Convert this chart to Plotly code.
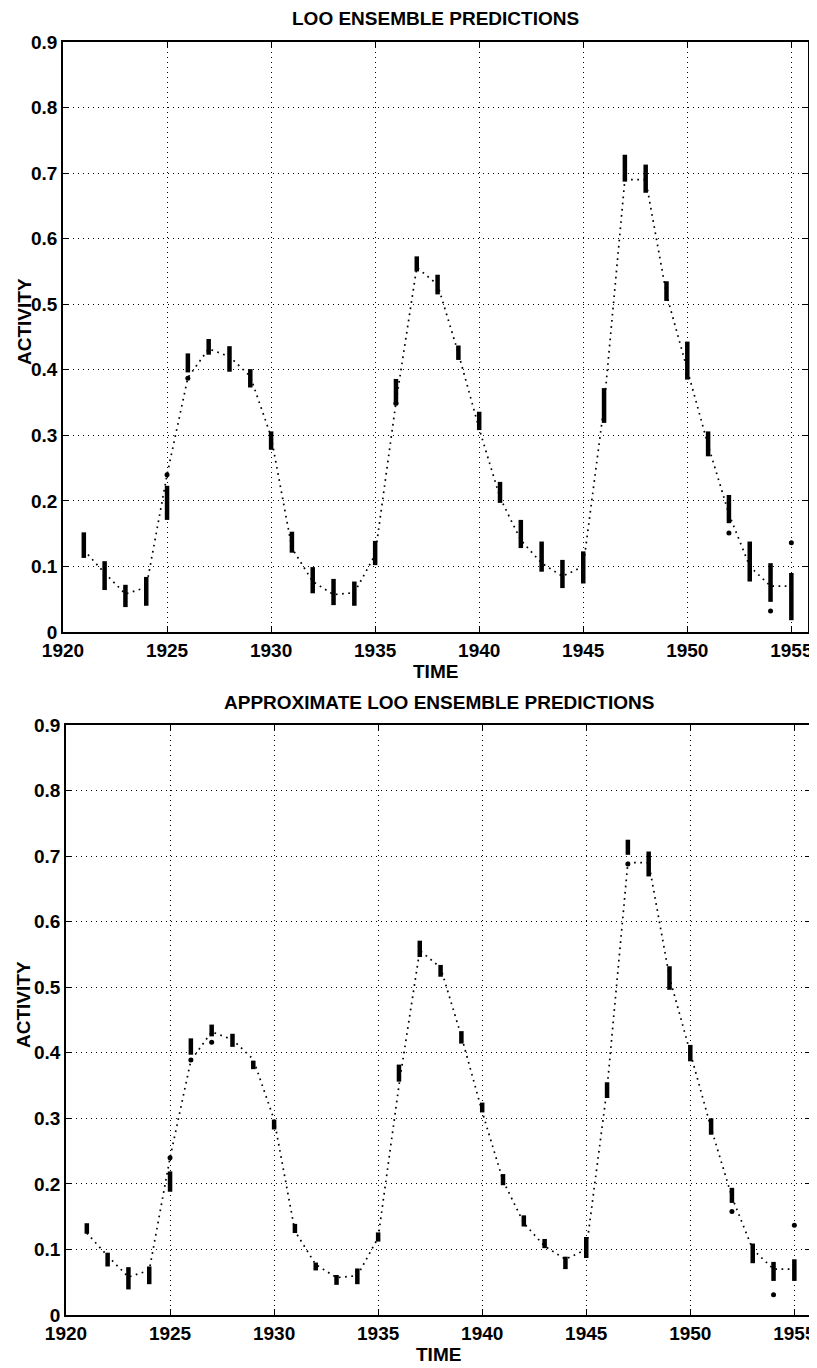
import plotly.graph_objects as go

years = list(range(1921, 1956))

# dotted reference line (observed series)
observed = [0.125, 0.090, 0.058, 0.068, 0.240, 0.388, 0.432, 0.420, 0.390, 0.298,
            0.128, 0.077, 0.057, 0.060, 0.118, 0.350, 0.556, 0.530, 0.425, 0.310,
            0.205, 0.140, 0.105, 0.085, 0.100, 0.345, 0.690, 0.690, 0.515, 0.400,
            0.285, 0.180, 0.100, 0.070, 0.070]

# LOO ensemble spread (low / high) per year
loo_lo = [0.113, 0.064, 0.038, 0.040, 0.171, 0.396, 0.423, 0.397, 0.373, 0.278,
          0.121, 0.059, 0.041, 0.040, 0.102, 0.346, 0.550, 0.515, 0.415, 0.308,
          0.197, 0.128, 0.092, 0.067, 0.074, 0.319, 0.687, 0.670, 0.505, 0.385,
          0.268, 0.166, 0.077, 0.046, 0.018]
loo_hi = [0.152, 0.108, 0.072, 0.084, 0.223, 0.425, 0.447, 0.436, 0.401, 0.306,
          0.153, 0.099, 0.081, 0.077, 0.139, 0.386, 0.573, 0.545, 0.437, 0.336,
          0.229, 0.171, 0.138, 0.110, 0.123, 0.372, 0.728, 0.713, 0.535, 0.443,
          0.306, 0.209, 0.138, 0.105, 0.090]
loo_out_x = [1925, 1926, 1936, 1952, 1954, 1955]
loo_out_y = [0.240, 0.387, 0.349, 0.151, 0.032, 0.136]

# approximate LOO ensemble spread
apx_lo = [0.124, 0.074, 0.039, 0.047, 0.188, 0.397, 0.425, 0.409, 0.375, 0.283,
          0.125, 0.068, 0.046, 0.047, 0.112, 0.356, 0.546, 0.516, 0.414, 0.309,
          0.198, 0.135, 0.102, 0.070, 0.087, 0.331, 0.702, 0.669, 0.496, 0.387,
          0.275, 0.171, 0.079, 0.052, 0.052]
apx_hi = [0.140, 0.095, 0.073, 0.074, 0.219, 0.422, 0.443, 0.429, 0.388, 0.298,
          0.139, 0.080, 0.061, 0.071, 0.126, 0.382, 0.571, 0.534, 0.433, 0.324,
          0.215, 0.152, 0.116, 0.089, 0.119, 0.355, 0.725, 0.707, 0.532, 0.412,
          0.300, 0.194, 0.109, 0.081, 0.085]
apx_out_x = [1925, 1926, 1927, 1947, 1952, 1954, 1955]
apx_out_y = [0.240, 0.389, 0.416, 0.688, 0.158, 0.031, 0.137]

titles = ["LOO ENSEMBLE PREDICTIONS", "APPROXIMATE LOO ENSEMBLE PREDICTIONS"]
x_ticks = [1920, 1925, 1930, 1935, 1940, 1945, 1950, 1955]
y_ticks = [0, 0.1, 0.2, 0.3, 0.4, 0.5, 0.6, 0.7, 0.8, 0.9]
y_tick_text = ["0", "0.1", "0.2", "0.3", "0.4", "0.5", "0.6", "0.7", "0.8", "0.9"]

# page body has an 8px default margin: size the figure to fit the window
OFF = 8
W, H = 817 - OFF, 1368 - OFF
FONT = dict(family="Liberation Sans, Arial, Helvetica, sans-serif", size=19, color="black", weight="bold")

fig = go.Figure()


def seg(xs, lo, hi):
    sx, sy = [], []
    for a, b, c in zip(xs, lo, hi):
        sx += [a, a, None]
        sy += [b, c, None]
    return sx, sy


panels = [
    (loo_lo, loo_hi, loo_out_x, loo_out_y, "x", "y"),
    (apx_lo, apx_hi, apx_out_x, apx_out_y, "x2", "y2"),
]
for lo, hi, ox, oy, xa, ya in panels:
    fig.add_trace(go.Scatter(x=years, y=observed, mode="lines", xaxis=xa, yaxis=ya,
                             line=dict(color="black", width=1.7, dash="1.7px,4.5px"),
                             showlegend=False, hoverinfo="skip"))
    sx, sy = seg(years, lo, hi)
    fig.add_trace(go.Scatter(x=sx, y=sy, mode="lines", xaxis=xa, yaxis=ya,
                             line=dict(color="black", width=4.5),
                             showlegend=False, hoverinfo="skip"))
    fig.add_trace(go.Scatter(x=ox, y=oy, mode="markers", xaxis=xa, yaxis=ya,
                             marker=dict(color="black", size=5),
                             showlegend=False, hoverinfo="skip"))

# window-pixel geometry of each axes box: (top, bottom, left, right)
box_px = [(42, 632, 63, 808), (725, 1315, 66, 811)]


def px(p):
    return (p - OFF) / W


def py(p):
    return 1 - (p - OFF) / H


axis_common = dict(showline=True, linecolor="black", linewidth=1.5, mirror="ticks",
                   ticks="inside", ticklen=6, tickwidth=1, tickcolor="black",
                   showgrid=True, gridcolor="black", gridwidth=1, griddash="1px,4px",
                   zeroline=False, tickfont=FONT, automargin=False)

layout = dict(width=W, height=H, margin=dict(l=0, r=0, t=0, b=0, autoexpand=False),
              paper_bgcolor="white", plot_bgcolor="white", showlegend=False)

for i, (yt, yb, xl, xr) in enumerate(box_px):
    sfx = "" if i == 0 else "2"
    layout["xaxis" + sfx] = dict(axis_common, domain=[px(xl), px(xr)], range=[1920, 1955.8],
                                 tickvals=x_ticks, ticktext=[str(t) for t in x_ticks],
                                 anchor="y" + sfx)
    layout["yaxis" + sfx] = dict(axis_common, domain=[py(yb), py(yt)], range=[0, 0.9],
                                 tickvals=y_ticks, ticktext=y_tick_text,
                                 anchor="x" + sfx)

annotations = []
for i, (yt, yb, xl, xr) in enumerate(box_px):
    cx = px((xl + xr) / 2)
    annotations.append(dict(text=titles[i], x=cx, y=py(yt - 23), xref="paper", yref="paper",
                            xanchor="center", yanchor="middle", showarrow=False, font=FONT))
    annotations.append(dict(text="TIME", x=cx, y=py(yb + 39), xref="paper", yref="paper",
                            xanchor="center", yanchor="middle", showarrow=False, font=FONT))
    annotations.append(dict(text="ACTIVITY", x=px(24), y=py((yt + yb) / 2 - 15), xref="paper",
                            yref="paper", xanchor="center", yanchor="middle", textangle=-90,
                            showarrow=False, font=FONT))
layout["annotations"] = annotations

fig.update_layout(**layout)
fig.write_html("out.html")
